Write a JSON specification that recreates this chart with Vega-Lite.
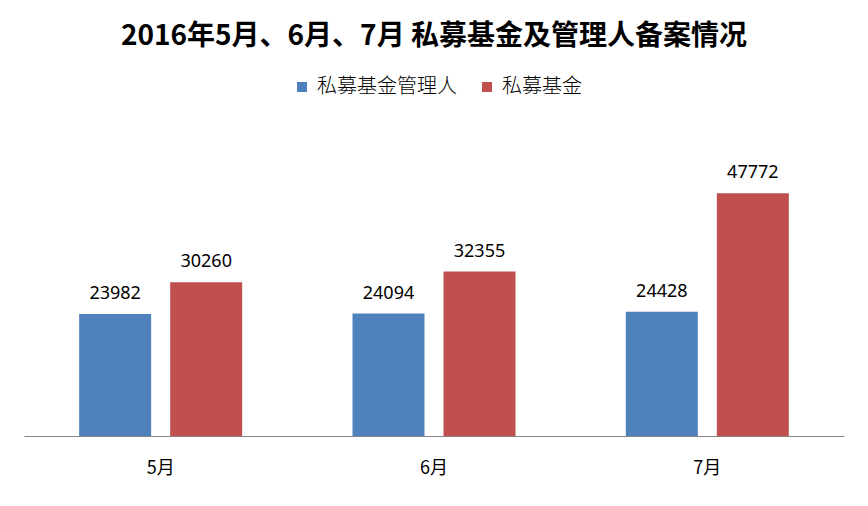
{
  "$schema": "https://vega.github.io/schema/vega-lite/v6.json",
  "width": 820,
  "height": 305,
  "autosize": "none",
  "padding": {"left": 24, "top": 131, "right": 24, "bottom": 70},
  "background": "white",
  "title": {
    "text": "2016年5月、6月、7月 私募基金及管理人备案情况",
    "font": "Noto Sans CJK SC",
    "fontSize": 28,
    "fontWeight": "bold",
    "color": "black",
    "anchor": "middle",
    "baseline": "alphabetic",
    "offset": 4
  },
  "data": {
    "values": [
      {"month": "5月", "series": "私募基金管理人", "value": 23982},
      {"month": "5月", "series": "私募基金", "value": 30260},
      {"month": "6月", "series": "私募基金管理人", "value": 24094},
      {"month": "6月", "series": "私募基金", "value": 32355},
      {"month": "7月", "series": "私募基金管理人", "value": 24428},
      {"month": "7月", "series": "私募基金", "value": 47772}
    ]
  },
  "encoding": {
    "x": {
      "field": "month",
      "type": "nominal",
      "sort": ["5月", "6月", "7月"],
      "scale": {"paddingInner": 0, "paddingOuter": 0},
      "axis": {
        "title": null,
        "labelAngle": 0,
        "ticks": false,
        "domainColor": "#868686",
        "domainWidth": 1,
        "labelFont": "Noto Sans CJK SC",
        "labelFontSize": 18,
        "labelColor": "black",
        "labelBaseline": "top",
        "labelPadding": 23
      }
    },
    "xOffset": {
      "field": "series",
      "type": "nominal",
      "sort": ["私募基金管理人", "私募基金"],
      "scale": {"paddingInner": 0.209, "paddingOuter": 0.606}
    },
    "y": {
      "field": "value",
      "type": "quantitative",
      "scale": {"domain": [0, 60000]},
      "axis": null
    }
  },
  "layer": [
    {
      "mark": {"type": "bar"},
      "encoding": {
        "color": {
          "field": "series",
          "type": "nominal",
          "scale": {"domain": ["私募基金管理人", "私募基金"], "range": ["#4F81BD", "#C0504D"]},
          "legend": {
            "orient": "none",
            "legendX": 268,
            "legendY": -54,
            "direction": "horizontal",
            "title": null,
            "symbolType": "square",
            "symbolSize": 100,
            "symbolStrokeWidth": 0,
            "labelFont": "Noto Sans CJK SC",
            "labelFontSize": 20,
            "labelFontWeight": 300,
            "labelColor": "black",
            "labelOffset": 5,
            "columnPadding": 20
          }
        }
      }
    },
    {
      "mark": {"type": "text", "dy": -15, "baseline": "alphabetic", "fontSize": 18, "font": "Noto Sans", "color": "black"},
      "encoding": {
        "text": {"field": "value", "type": "quantitative", "format": "d"}
      }
    }
  ],
  "config": {"view": {"stroke": null}}
}
